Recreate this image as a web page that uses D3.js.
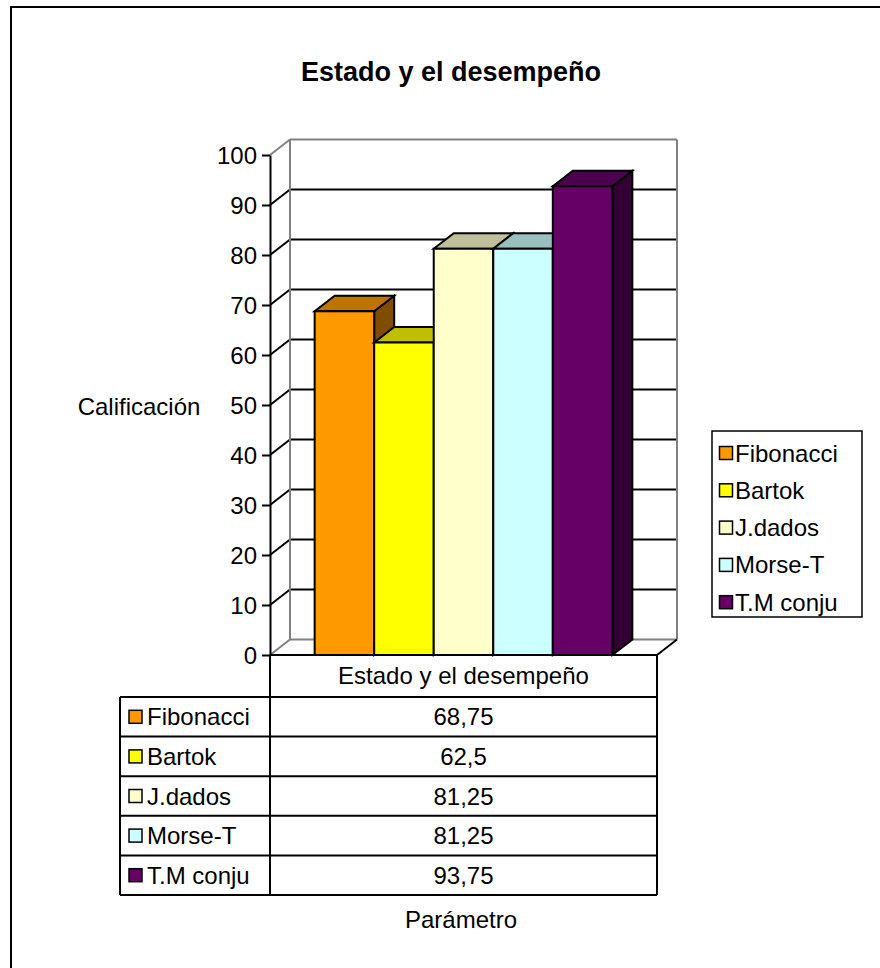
<!DOCTYPE html>
<html>
<head>
<meta charset="utf-8">
<script src="https://cdn.jsdelivr.net/npm/d3@7/dist/d3.min.js"></script>
<style>
  html, body { margin: 0; padding: 0; background: #fff; }
  svg { display: block; font-family: "Liberation Sans", Arial, sans-serif; }
</style>
</head>
<body>
<svg id="chart" width="880" height="968"></svg>
<script>
// Chart data
const chartTitle = "Estado y el desempeño";
const category = "Estado y el desempeño";
const seriesNames = ["Fibonacci", "Bartok", "J.dados", "Morse-T", "T.M conju"];
const seriesValues = [68.75, 62.5, 81.25, 81.25, 93.75];
const seriesColors = ["#FF9900", "#FFFF00", "#FFFFCC", "#CCFFFF", "#660066"];
const yTicks = [0, 10, 20, 30, 40, 50, 60, 70, 80, 90, 100];
const yAxisTitle = "Calificación";
const xAxisTitle = "Parámetro";

(function () {
  const svg = d3.select("#chart");
  const FONT = 24;

  // Plot geometry (front face of the 3D box) and depth offset
  const pL = 270, pR = 657, pT = 155, pB = 655;
  const dx = 20, dy = -15.5;

  const y = d3.scaleLinear().domain([0, 100]).range([pB, pT]);
  const x = d3.scaleBand().domain(seriesNames).range([pL, pR])
    .paddingInner(0).paddingOuter(0.75);

  const fmt = v => String(v).replace(".", ",");
  const shade = (c, k) => { const r = d3.rgb(c); return d3.rgb(r.r * k, r.g * k, r.b * k).formatHex(); };

  // Outer frame
  svg.append("rect").attr("x", 11).attr("y", 7).attr("width", 1000).attr("height", 1100)
    .attr("fill", "none").attr("stroke", "#000").attr("stroke-width", 2);

  // Title
  svg.append("text").attr("x", 451).attr("y", 81).attr("text-anchor", "middle")
    .attr("font-size", 27).attr("font-weight", "bold").text(chartTitle);

  // Walls: back wall grid lines and side wall diagonals
  const walls = svg.append("g");
  yTicks.forEach(t => {
    const edge = (t === 0 || t === 100);
    const col = edge ? "#808080" : "#000";
    walls.append("line")
      .attr("x1", pL).attr("y1", y(t)).attr("x2", pL + dx).attr("y2", y(t) + dy)
      .attr("stroke", col).attr("stroke-width", 2);
    walls.append("line")
      .attr("x1", pL + dx).attr("y1", y(t) + dy).attr("x2", pR + dx).attr("y2", y(t) + dy)
      .attr("stroke", col).attr("stroke-width", 2);
  });
  [pL + dx, pR + dx].forEach(xx => {
    walls.append("line").attr("x1", xx).attr("x2", xx)
      .attr("y1", y(100) + dy).attr("y2", y(0) + dy)
      .attr("stroke", "#808080").attr("stroke-width", 2);
  });
  walls.append("line").attr("x1", pR).attr("y1", y(0)).attr("x2", pR + dx).attr("y2", y(0) + dy)
    .attr("stroke", "#000").attr("stroke-width", 2);

  // 3D columns
  const bars = svg.append("g").attr("stroke", "#000").attr("stroke-width", 2);
  seriesNames.forEach((name, i) => {
    const v = seriesValues[i], c = seriesColors[i];
    const x0 = x(name), x1 = x0 + x.bandwidth();
    const yv = y(v), y0 = y(0);
    const g = bars.append("g");
    g.append("path").attr("fill", shade(c, 0.5))
      .attr("d", `M${x1},${yv}L${x1 + dx},${yv + dy}L${x1 + dx},${y0 + dy}L${x1},${y0}Z`);
    g.append("path").attr("fill", shade(c, 0.75))
      .attr("d", `M${x0},${yv}L${x0 + dx},${yv + dy}L${x1 + dx},${yv + dy}L${x1},${yv}Z`);
    g.append("rect").attr("fill", c)
      .attr("x", x0).attr("y", yv).attr("width", x1 - x0).attr("height", y0 - yv);
  });

  // Value axis
  const axis = svg.append("g").attr("transform", `translate(${pL},0)`)
    .call(d3.axisLeft(y).tickValues(yTicks).tickSize(8).tickSizeOuter(0).tickPadding(5));
  axis.select(".domain").attr("stroke", "#000").attr("stroke-width", 2);
  axis.selectAll(".tick line").attr("stroke", "#000").attr("stroke-width", 2);
  axis.selectAll(".tick text").attr("font-size", FONT).attr("fill", "#000")
    .attr("font-family", "'Liberation Sans', Arial, sans-serif").attr("dy", "0.36em");

  svg.append("text").attr("x", 139).attr("y", 415).attr("text-anchor", "middle")
    .attr("font-size", FONT).text(yAxisTitle);

  // Data table
  const tableLeft = 120;
  const headerTop = pB, rowTop = 697, rowH = 39.6;
  const rowsBottom = rowTop + rowH * seriesNames.length;
  const tbl = svg.append("g");
  const tline = (x1, y1, x2, y2) => tbl.append("line")
    .attr("x1", x1).attr("y1", y1).attr("x2", x2).attr("y2", y2)
    .attr("stroke", "#000").attr("stroke-width", 2);
  tline(pL, headerTop, pR, headerTop);
  for (let r = 0; r <= seriesNames.length; r++) tline(tableLeft, rowTop + r * rowH, pR, rowTop + r * rowH);
  tline(tableLeft, rowTop, tableLeft, rowsBottom);
  tline(pL, headerTop, pL, rowsBottom);
  tline(pR, headerTop, pR, rowsBottom);

  tbl.append("text").attr("x", (pL + pR) / 2).attr("y", 684).attr("text-anchor", "middle")
    .attr("font-size", FONT).text(category);

  seriesNames.forEach((name, i) => {
    const cy = rowTop + i * rowH + rowH / 2;
    tbl.append("rect").attr("x", 129).attr("y", cy - 6.5).attr("width", 13).attr("height", 13)
      .attr("fill", seriesColors[i]).attr("stroke", "#000").attr("stroke-width", 1.5);
    tbl.append("text").attr("x", 147).attr("y", cy + 8.5).attr("font-size", FONT).text(name);
    tbl.append("text").attr("x", (pL + pR) / 2).attr("y", cy + 8.5).attr("text-anchor", "middle")
      .attr("font-size", FONT).text(fmt(seriesValues[i]));
  });

  svg.append("text").attr("x", 461).attr("y", 928).attr("text-anchor", "middle")
    .attr("font-size", FONT).text(xAxisTitle);

  // Legend
  const legend = svg.append("g");
  legend.append("rect").attr("x", 712).attr("y", 431).attr("width", 150).attr("height", 186)
    .attr("fill", "#fff").attr("stroke", "#000").attr("stroke-width", 1.5);
  seriesNames.forEach((name, i) => {
    const cy = 453 + i * 37.3;
    legend.append("rect").attr("x", 719.5).attr("y", cy - 6.5).attr("width", 13).attr("height", 13)
      .attr("fill", seriesColors[i]).attr("stroke", "#000").attr("stroke-width", 1.5);
    legend.append("text").attr("x", 735).attr("y", cy + 8.5).attr("font-size", FONT).text(name);
  });
})();
</script>
</body>
</html>
